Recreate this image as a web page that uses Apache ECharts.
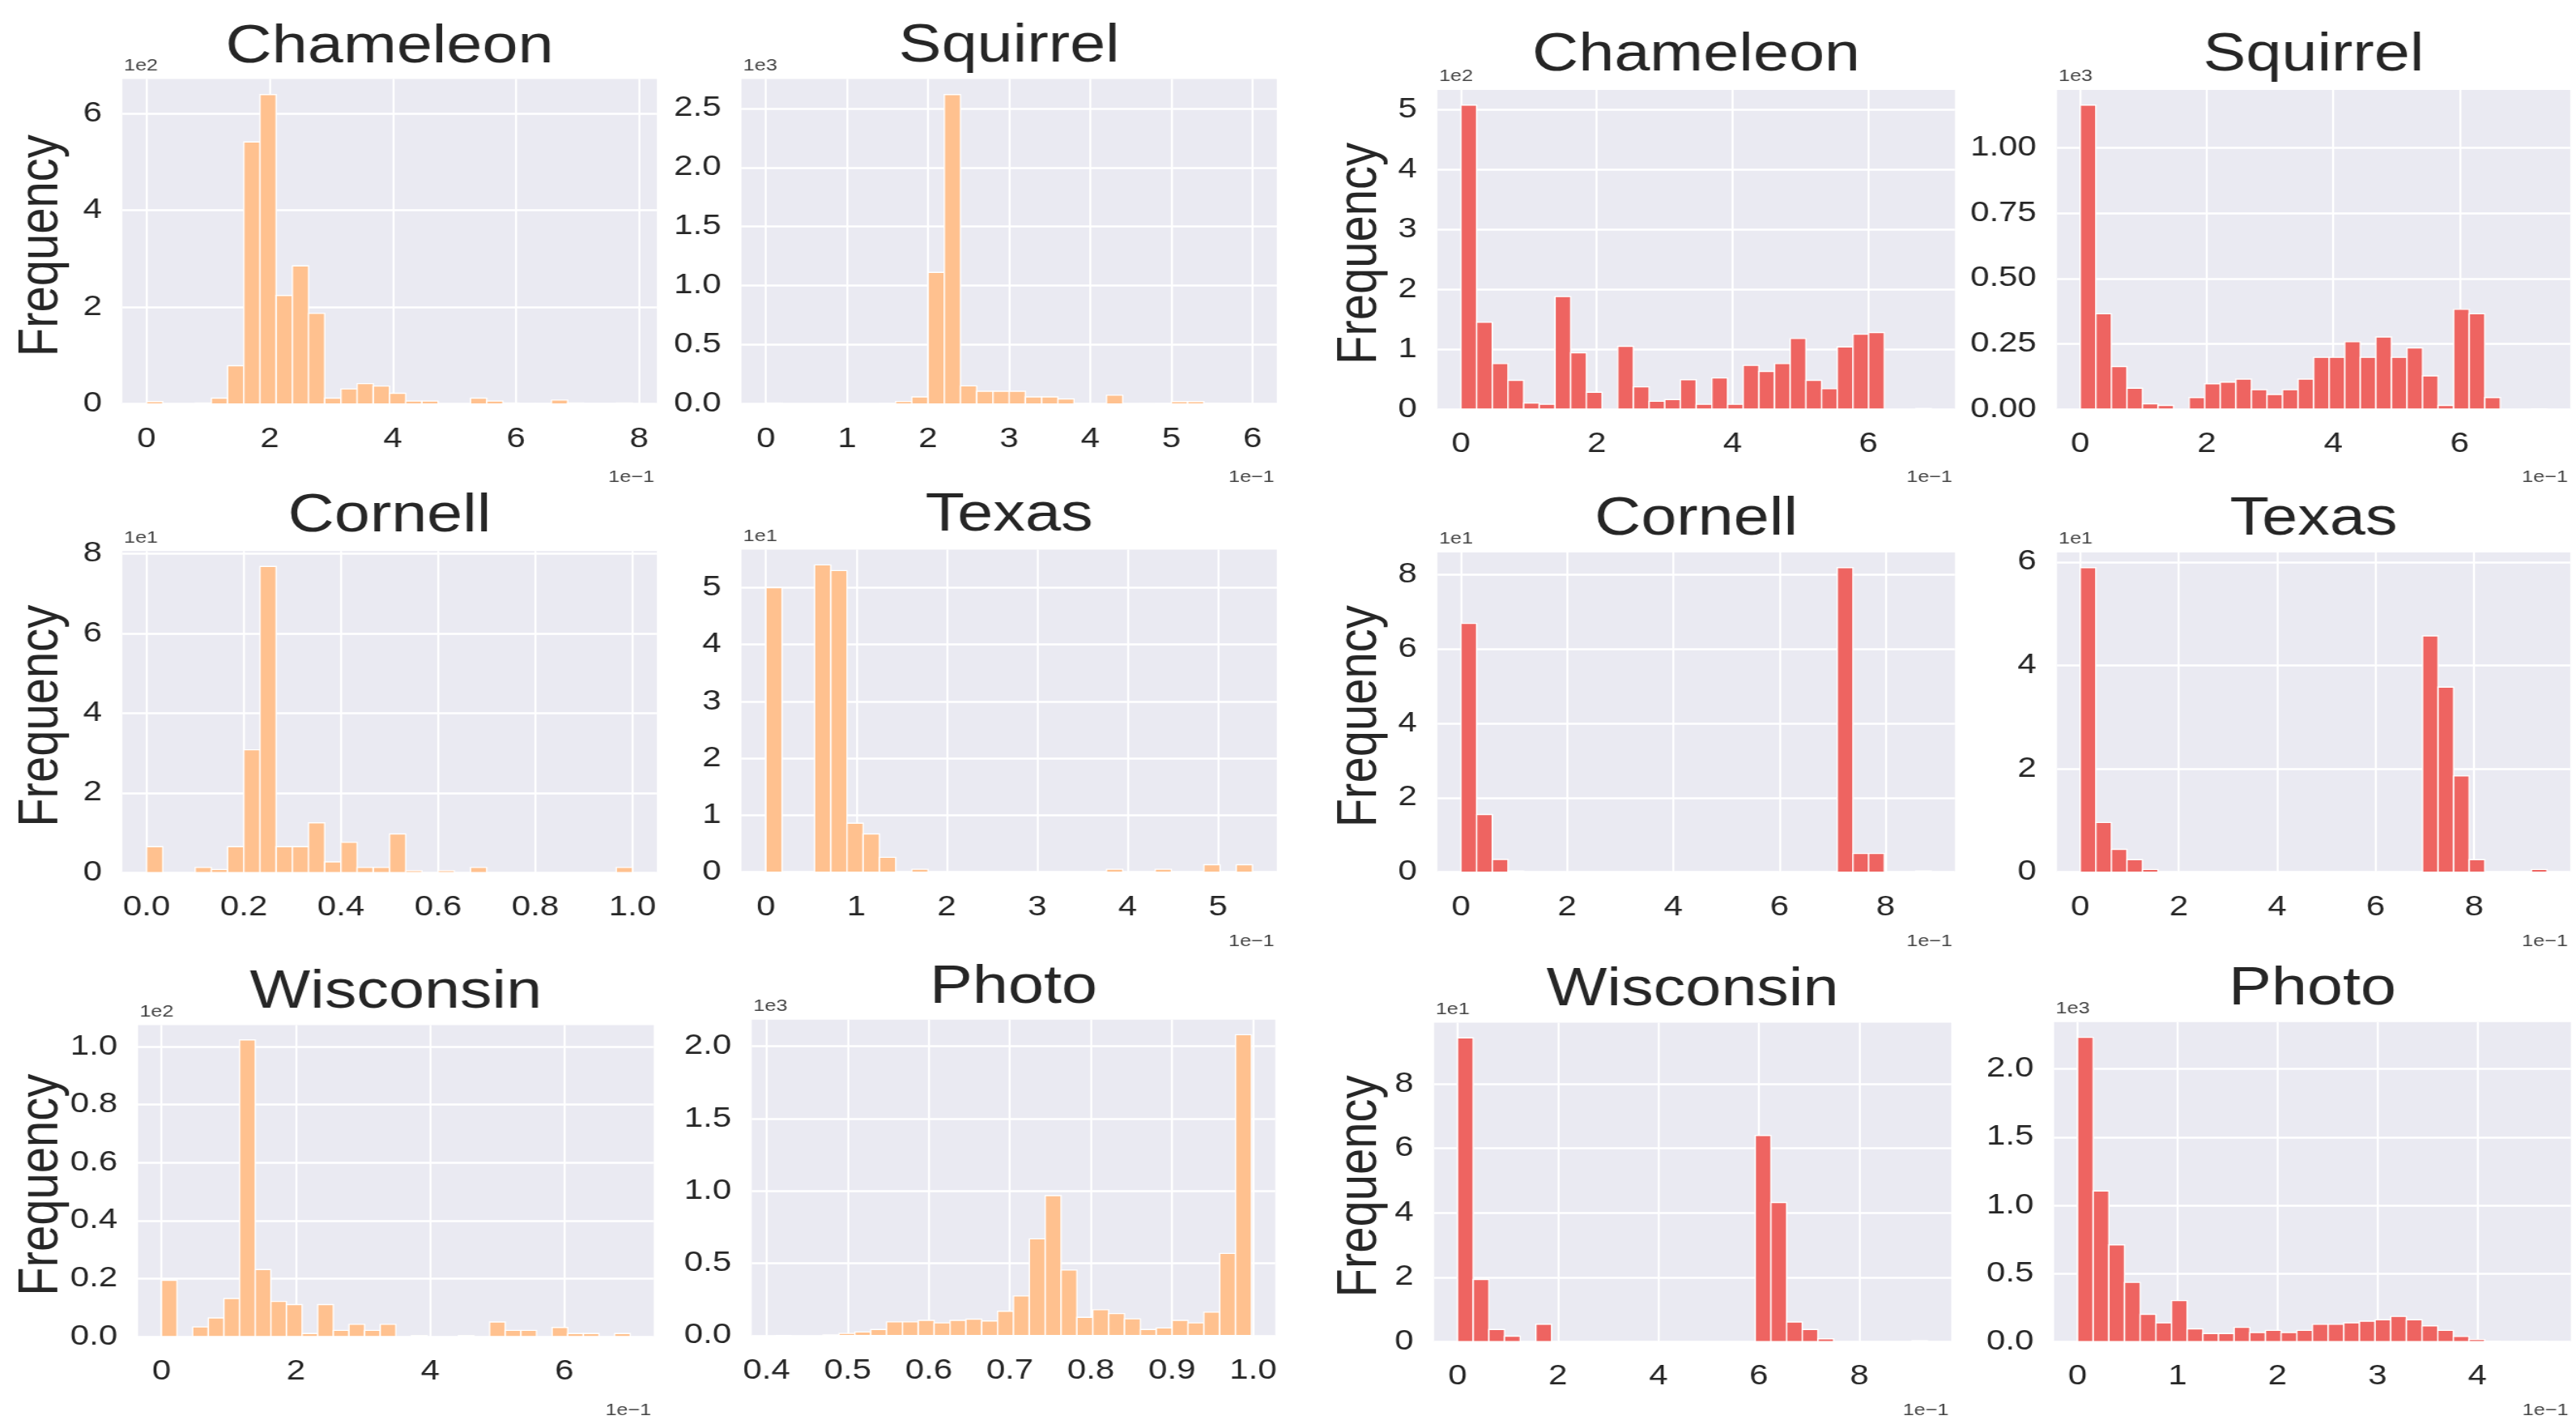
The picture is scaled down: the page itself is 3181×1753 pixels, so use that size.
<!DOCTYPE html>
<html>
<head>
<meta charset="utf-8">
<script src="https://cdn.jsdelivr.net/npm/echarts@6/dist/echarts.min.js"></script>
<style>
  html, body { margin: 0; padding: 0; background: #ffffff; overflow: hidden; }
  /* the figure is laid out narrower and widened horizontally */
  #chart { width: 2651px; height: 1753px; transform: scaleX(1.19992); transform-origin: 0 0; }
</style>
</head>
<body>
<div id="chart"></div>
<script>
// ---------------- histogram data: value range [min, max] and 30 bin counts ----------------
const chameleonRangeA = [0, 0.789];
const chameleonCountsA = [5, 0, 0, 2, 12, 79, 541, 639, 224, 285, 187, 12, 31, 42, 37, 22, 6, 6, 0, 0, 12, 6, 2, 1, 1, 8, 2, 1, 1, 2];

const squirrelRangeA = [0, 0.600];
const squirrelCountsA = [8, 0, 0, 0, 0, 0, 0, 4, 21, 60, 1113, 2617, 153, 108, 108, 108, 60, 60, 42, 3, 0, 74, 0, 2, 4, 20, 20, 5, 4, 3];

const chameleonRangeB = [0, 0.693];
const chameleonCountsB = [508, 145, 76, 48, 10, 8, 188, 94, 28, 0, 105, 37, 13, 16, 49, 8, 52, 8, 73, 63, 76, 118, 48, 34, 104, 125, 128, 0, 0, 1];

const squirrelRangeB = [0, 0.738];
const squirrelCountsB = [1164, 365, 163, 80, 20, 14, 0, 44, 97, 103, 115, 74, 56, 74, 115, 198, 198, 258, 198, 276, 198, 234, 127, 14, 382, 365, 44, 0, 0, 1];

const cornellRangeA = [0, 1.0];
const cornellCountsA = [6.5, 0, 0, 1.3, 0.8, 6.5, 30.8, 76.8, 6.5, 6.5, 12.5, 2.7, 7.6, 1.3, 1.3, 9.7, 0.5, 0, 0.5, 0, 1.3, 0, 0, 0, 0, 0, 0, 0, 0, 1.3];

const texasRangeA = [0, 0.538];
const texasCountsA = [50, 0, 0, 54, 53, 8.6, 6.7, 2.6, 0, 0.5, 0, 0, 0, 0, 0, 0, 0, 0, 0, 0, 0, 0.5, 0, 0, 0.5, 0, 0, 1.3, 0, 1.3];

const cornellRangeB = [0, 0.886];
const cornellCountsB = [66.9, 15.5, 3.4, 0.3, 0, 0, 0, 0, 0, 0, 0, 0, 0, 0, 0, 0, 0, 0, 0, 0, 0, 0, 0, 0, 81.9, 5, 5, 0, 0, 0.3];

const texasRangeB = [0, 0.948];
const texasCountsB = [58.9, 9.6, 4.4, 2.4, 0.5, 0, 0, 0, 0, 0, 0, 0, 0, 0, 0, 0, 0, 0, 0, 0, 0, 0, 45.7, 35.8, 18.6, 2.4, 0, 0, 0, 0.5];

const wisconsinRangeA = [0, 0.698];
const wisconsinCountsA = [19.4, 0, 3.3, 6.4, 13.1, 102.3, 23.1, 12.1, 11, 1, 11, 2.1, 4.2, 2.1, 4.2, 0, 0.3, 0, 0, 0.3, 0, 5, 2.1, 2.1, 0, 3.1, 1, 1, 0, 1];

const photoRangeA = [0.411, 0.998];
const photoCountsA = [1, 0, 0, 5, 15, 25, 42, 95, 95, 105, 88, 105, 114, 101, 168, 274, 669, 968, 453, 126, 179, 152, 116, 42, 53, 105, 88, 162, 568, 2080];

const wisconsinRangeB = [0, 0.936];
const wisconsinCountsB = [94.3, 19.3, 3.8, 1.7, 0, 5.4, 0, 0, 0, 0, 0, 0, 0, 0, 0, 0, 0, 0, 0, 64, 43.2, 6.1, 3.8, 0.9, 0, 0, 0, 0, 0, 0.3];

const photoRangeB = [0, 0.470];
const photoCountsB = [2232, 1105, 710, 435, 201, 138, 301, 94, 60, 60, 105, 67, 83, 67, 83, 127, 127, 138, 150, 161, 185, 161, 116, 83, 38, 16, 4, 0, 0, 1];

// ---------------- tick labels (shown in units of 10^exp) ----------------
const xTicksTenths08 = ['0', '2', '4', '6', '8'];
const xTicksTenths06 = ['0', '2', '4', '6'];
const xTicksTenthsStep1to6 = ['0', '1', '2', '3', '4', '5', '6'];
const xTicksTenthsStep1to5 = ['0', '1', '2', '3', '4', '5'];
const xTicksTenthsStep1to4 = ['0', '1', '2', '3', '4'];
const xTicksUnit0to1 = ['0.0', '0.2', '0.4', '0.6', '0.8', '1.0'];
const xTicksUnit04to1 = ['0.4', '0.5', '0.6', '0.7', '0.8', '0.9', '1.0'];

const yTicksChameleonA = ['0', '2', '4', '6'];
const yTicksSquirrelA = ['0.0', '0.5', '1.0', '1.5', '2.0', '2.5'];
const yTicksChameleonB = ['0', '1', '2', '3', '4', '5'];
const yTicksSquirrelB = ['0.00', '0.25', '0.50', '0.75', '1.00'];
const yTicksCornellA = ['0', '2', '4', '6', '8'];
const yTicksTexasA = ['0', '1', '2', '3', '4', '5'];
const yTicksCornellB = ['0', '2', '4', '6', '8'];
const yTicksTexasB = ['0', '2', '4', '6'];
const yTicksWisconsinA = ['0.0', '0.2', '0.4', '0.6', '0.8', '1.0'];
const yTicksPhotoA = ['0.0', '0.5', '1.0', '1.5', '2.0'];
const yTicksWisconsinB = ['0', '2', '4', '6', '8'];
const yTicksPhotoB = ['0.0', '0.5', '1.0', '1.5', '2.0'];

const ORANGE = '#FFC18F';
const RED = '#EE6461';

// panel table, row by row
const panels = [
  { title: 'Chameleon', range: chameleonRangeA, counts: chameleonCountsA, xTicks: xTicksTenths08, xExp: -1, yTicks: yTicksChameleonA, yExp: 2, color: ORANGE },
  { title: 'Squirrel', range: squirrelRangeA, counts: squirrelCountsA, xTicks: xTicksTenthsStep1to6, xExp: -1, yTicks: yTicksSquirrelA, yExp: 3, color: ORANGE },
  { title: 'Chameleon', range: chameleonRangeB, counts: chameleonCountsB, xTicks: xTicksTenths06, xExp: -1, yTicks: yTicksChameleonB, yExp: 2, color: RED },
  { title: 'Squirrel', range: squirrelRangeB, counts: squirrelCountsB, xTicks: xTicksTenths06, xExp: -1, yTicks: yTicksSquirrelB, yExp: 3, color: RED },
  { title: 'Cornell', range: cornellRangeA, counts: cornellCountsA, xTicks: xTicksUnit0to1, xExp: 0, yTicks: yTicksCornellA, yExp: 1, color: ORANGE },
  { title: 'Texas', range: texasRangeA, counts: texasCountsA, xTicks: xTicksTenthsStep1to5, xExp: -1, yTicks: yTicksTexasA, yExp: 1, color: ORANGE },
  { title: 'Cornell', range: cornellRangeB, counts: cornellCountsB, xTicks: xTicksTenths08, xExp: -1, yTicks: yTicksCornellB, yExp: 1, color: RED },
  { title: 'Texas', range: texasRangeB, counts: texasCountsB, xTicks: xTicksTenths08, xExp: -1, yTicks: yTicksTexasB, yExp: 1, color: RED },
  { title: 'Wisconsin', range: wisconsinRangeA, counts: wisconsinCountsA, xTicks: xTicksTenths06, xExp: -1, yTicks: yTicksWisconsinA, yExp: 2, color: ORANGE },
  { title: 'Photo', range: photoRangeA, counts: photoCountsA, xTicks: xTicksUnit04to1, xExp: 0, yTicks: yTicksPhotoA, yExp: 3, color: ORANGE },
  { title: 'Wisconsin', range: wisconsinRangeB, counts: wisconsinCountsB, xTicks: xTicksTenths08, xExp: -1, yTicks: yTicksWisconsinB, yExp: 1, color: RED },
  { title: 'Photo', range: photoRangeB, counts: photoCountsB, xTicks: xTicksTenthsStep1to4, xExp: -1, yTicks: yTicksPhotoB, yExp: 3, color: RED }
];

// plot boxes on the final (widened) page: [left, right, top, bottom, title baseline]
const boxes = [
  [151, 811, 97.6, 498.7, 82], [915.7, 1576.7, 97.6, 498.7, 81], [1775, 2414, 111, 505, 92], [2540, 3174, 111, 505, 92],
  [151, 811, 680.3, 1077.3, 661], [915.7, 1576.7, 678.4, 1076.6, 660], [1775, 2414, 682, 1076.6, 665], [2540, 3174, 682, 1076.6, 665],
  [170.4, 807.2, 1265.5, 1649.9, 1249], [928.3, 1574.7, 1258.8, 1648.8, 1243], [1770.8, 2409.4, 1262.5, 1656.3, 1246], [2536.5, 3174.6, 1261.8, 1656.3, 1244.5]
];
const xOffsetBaseline = [597, 597, 597, 597, 1170, 1170, 1170, 1170, 1749, 1749, 1749, 1749];

const K = 3181 / 2651;          // horizontal widening of the page
const px = v => v / K;          // page x -> chart x
const FONT = '"Liberation Sans", Arial, sans-serif';
const TEXT = '#262626';

function tickValues(labels, exp) {
  return labels.map(s => Number((parseFloat(s) * Math.pow(10, exp)).toPrecision(12)));
}
function labelFormatter(labels, values) {
  return function (v) {
    let best = 0;
    for (let i = 1; i < values.length; i++) {
      if (Math.abs(values[i] - v) < Math.abs(values[best] - v)) best = i;
    }
    return labels[best];
  };
}

const grid = [], xAxis = [], yAxis = [], series = [], graphic = [];

panels.forEach((p, i) => {
  const [L, R, T, B, titleBase] = boxes[i];
  const lo = p.range[0], hi = p.range[1];
  const span = hi - lo;
  const n = p.counts.length;
  const w = span / n;
  const maxCount = Math.max.apply(null, p.counts);
  const xVals = tickValues(p.xTicks, p.xExp);
  const yVals = tickValues(p.yTicks, p.yExp);

  grid.push({
    left: px(L), top: T, width: px(R - L), height: B - T,
    show: true, backgroundColor: '#EAEAF2', borderWidth: 0,
    containLabel: false, outerBoundsMode: 'none'
  });

  xAxis.push({
    gridIndex: i, type: 'value',
    min: lo - 0.05 * span, max: hi + 0.05 * span,
    axisLine: { show: false },
    axisTick: { show: false, customValues: xVals },
    axisLabel: {
      customValues: xVals, formatter: labelFormatter(p.xTicks, xVals),
      fontSize: 35, fontFamily: FONT, color: TEXT, margin: 26
    },
    splitLine: { show: true, lineStyle: { color: '#FFFFFF', width: 2.2 } }
  });

  yAxis.push({
    gridIndex: i, type: 'value',
    min: 0, max: maxCount * 1.05,
    axisLine: { show: false },
    axisTick: { show: false, customValues: yVals },
    axisLabel: {
      customValues: yVals, formatter: labelFormatter(p.yTicks, yVals),
      fontSize: 35, fontFamily: FONT, color: TEXT, margin: 21
    },
    splitLine: { show: true, lineStyle: { color: '#FFFFFF', width: 2.5 } }
  });

  const bins = p.counts.map((c, k) => [lo + k * w, lo + (k + 1) * w, c]);
  series.push({
    type: 'custom', xAxisIndex: i, yAxisIndex: i,
    data: bins, encode: { x: [0, 1], y: 2 },
    renderItem: function (params, api) {
      const c = api.value(2);
      if (!(c > 0)) return null;
      const a = api.coord([api.value(0), c]);
      const b = api.coord([api.value(1), 0]);
      return {
        type: 'rect',
        shape: { x: a[0], y: a[1], width: b[0] - a[0], height: b[1] - a[1] },
        style: { fill: p.color, stroke: '#FFFFFF', lineWidth: 1.4 }
      };
    }
  });

  // panel title
  graphic.push({
    type: 'text', x: px((L + R) / 2), y: titleBase - 0.35 * 66,
    style: { text: p.title, font: '66px ' + FONT, fill: TEXT, align: 'center', verticalAlign: 'middle', textAlign: 'center', textVerticalAlign: 'middle' }
  });

  // y axis name in the first column of each figure half
  if (i % 2 === 0) {
    const cx = (i % 4 === 0) ? 52 : 1680;
    graphic.push({
      type: 'text', x: px(cx), y: (T + B) / 2 + 5, rotation: Math.PI / 2,
      style: { text: 'Frequency', font: '58px ' + FONT, fill: TEXT, align: 'center', verticalAlign: 'middle', textAlign: 'center', textVerticalAlign: 'middle' }
    });
  }

  // scale offsets
  graphic.push({
    type: 'text', x: px(L + 2), y: T - 9 - 7.4,
    style: { text: '1e' + p.yExp, font: '21px ' + FONT, fill: '#444444', align: 'left', verticalAlign: 'middle', textAlign: 'left', textVerticalAlign: 'middle' }
  });
  if (p.xExp !== 0) {
    graphic.push({
      type: 'text', x: px(R - 3), y: xOffsetBaseline[i] - 7.4,
      style: { text: '1e\u2212' + (-p.xExp), font: '21px ' + FONT, fill: '#444444', align: 'right', verticalAlign: 'middle', textAlign: 'right', textVerticalAlign: 'middle' }
    });
  }
});

const chart = echarts.init(document.getElementById('chart'), null, { renderer: 'canvas' });
chart.setOption({
  animation: false,
  backgroundColor: '#FFFFFF',
  grid: grid,
  xAxis: xAxis,
  yAxis: yAxis,
  series: series,
  graphic: graphic
});
</script>
</body>
</html>
